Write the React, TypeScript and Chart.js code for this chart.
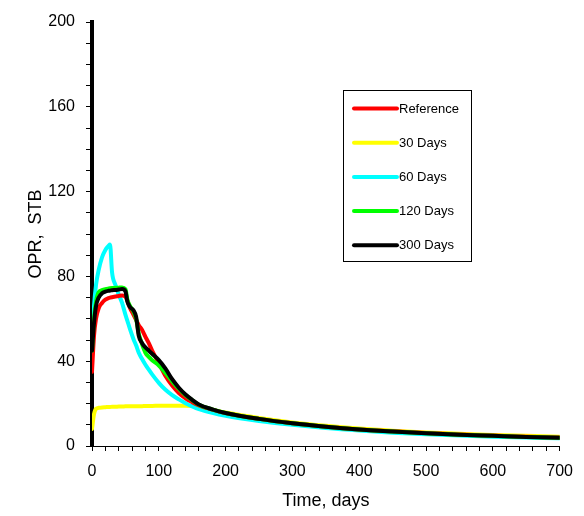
import React, { useEffect, useRef } from "react";
import { Chart, registerables } from "chart.js";

Chart.register(...registerables);

// ---- data ----
const TIME = [0, 3, 6, 10, 15, 20, 25, 27, 30, 35, 40, 45, 50, 53, 57, 62, 66, 70, 75, 80, 85, 90, 100, 110, 120, 130, 140, 150, 160, 180, 200, 250, 300, 350, 400, 450, 500, 550, 600, 650, 700];

const REFERENCE = [35, 52, 60, 65, 67.5, 69, 69.8, 70, 70.2, 70.5, 70.8, 71, 70.5, 68.5, 65, 62, 59.5, 57, 54.7, 51.5, 48.5, 45, 39, 33, 28.5, 25, 22.5, 20.7, 19.2, 17.2, 15.5, 12.8, 10.7, 9.1, 7.8, 6.9, 6.1, 5.4, 4.9, 4.4, 4.0];
const DAYS_30 = [8, 15, 17.6, 18, 18.2, 18.3, 18.4, 18.4, 18.5, 18.5, 18.6, 18.6, 18.7, 18.7, 18.7, 18.8, 18.8, 18.8, 18.8, 18.9, 18.9, 18.9, 19, 19, 19, 19, 19, 18.9, 18.5, 17.1, 15.8, 13.2, 11.1, 9.5, 8.2, 7.2, 6.4, 5.8, 5.2, 4.8, 4.4];
const DAYS_60 = [50, 66, 76, 83, 89, 92.5, 94.5, 95, 82, 76, 71.5, 67.5, 62, 59, 55, 50.5, 47.5, 44, 41, 38.3, 36, 33.8, 29.8, 26.5, 24, 22, 20.2, 18.7, 17.4, 15.6, 14.2, 11.8, 10.0, 8.5, 7.3, 6.3, 5.5, 4.9, 4.4, 4.0, 3.6];
const DAYS_120 = [45, 60, 68, 72.5, 73.5, 74, 74.3, 74.4, 74.5, 74.6, 74.7, 74.8, 74, 69, 66, 63.5, 60, 53, 48, 44, 42, 40.5, 38, 34.5, 30.5, 27, 24, 21.6, 19.5, 17.3, 15.6, 12.8, 10.7, 9.1, 7.8, 6.8, 6.0, 5.3, 4.8, 4.3, 3.9];
const DAYS_300 = [45, 58, 66, 70, 72, 72.8, 73.2, 73.3, 73.5, 73.6, 73.8, 74, 73, 68, 65.5, 64, 61, 52, 48.5, 46.5, 45, 43.5, 40.5, 36.5, 31.5, 27.5, 24.3, 21.8, 19.6, 17.3, 15.6, 12.8, 10.7, 9.1, 7.8, 6.8, 6.0, 5.3, 4.8, 4.3, 3.9];

const SERIES_LABELS = ["Reference", "30 Days", "60 Days", "120 Days", "300 Days"];
const SERIES_VALUES = [REFERENCE, DAYS_30, DAYS_60, DAYS_120, DAYS_300];
const SERIES_COLORS = ["#ff0000", "#ffff00", "#00ffff", "#00ff00", "#000000"];
const SERIES_ORDER = [2, 4, 3, 1, 0];

const X_TITLE = "Time, days";
const Y_TITLE = "OPR,\u00A0 STB";
const X_MIN = 0, X_MAX = 700, X_MINOR = 20, X_MAJOR = 100;
const Y_MIN = 0, Y_MAX = 200, Y_MINOR = 10, Y_MAJOR = 40;

const FONT = "'Liberation Sans', Arial, Helvetica, sans-serif";

const boxLegend = {
  id: "boxLegend",
  afterDraw(chart: any) {
    const ctx = chart.ctx as CanvasRenderingContext2D;
    ctx.save();
    const bx = 343.5, by = 90.5, bw = 128, bh = 171;
    ctx.fillStyle = "#ffffff";
    ctx.fillRect(bx, by, bw, bh);
    ctx.strokeStyle = "#000000";
    ctx.lineWidth = 1;
    ctx.strokeRect(bx, by, bw, bh);
    const rowY0 = 108.5, rowStep = 34.2;
    ctx.font = `13px ${FONT}`;
    ctx.textBaseline = "middle";
    ctx.textAlign = "left";
    chart.data.datasets.forEach((ds: any, i: number) => {
      const y = rowY0 + i * rowStep;
      ctx.strokeStyle = ds.borderColor;
      ctx.lineWidth = 4;
      ctx.lineCap = "round";
      ctx.beginPath();
      ctx.moveTo(354, y);
      ctx.lineTo(397, y);
      ctx.stroke();
      ctx.fillStyle = "#000000";
      ctx.fillText(ds.label, 399, y + 0.5);
    });
    ctx.restore();
  },
};

export default function App() {
  const ref = useRef<HTMLCanvasElement>(null);
  useEffect(() => {
    if (!ref.current) return;
    const datasets = SERIES_LABELS.map((label, i) => ({
      label,
      data: TIME.map((t, j) => ({ x: t, y: SERIES_VALUES[i][j] })),
      borderColor: SERIES_COLORS[i],
      backgroundColor: SERIES_COLORS[i],
      borderWidth: 4,
      pointRadius: 0,
      cubicInterpolationMode: "monotone" as const,
      borderJoinStyle: "round" as const,
      borderCapStyle: "round" as const,
      order: SERIES_ORDER[i],
      fill: false,
    }));
    const chart = new Chart(ref.current, {
      type: "line",
      data: { datasets },
      plugins: [boxLegend],
      options: {
        animation: false,
        responsive: false,
        devicePixelRatio: 1,
        layout: { padding: { top: 22, right: 24, bottom: 0, left: 0 } },
        plugins: { legend: { display: false }, tooltip: { enabled: false } },
        scales: {
          x: {
            type: "linear",
            min: X_MIN,
            max: X_MAX,
            afterFit: (s: any) => { s.height = 70; },
            border: { display: true, color: "#000", width: 1 },
            grid: { drawOnChartArea: false, drawTicks: true, tickLength: 5, color: "#000", lineWidth: 1 },
            ticks: {
              stepSize: X_MINOR,
              autoSkip: false,
              maxRotation: 0,
              padding: 11,
              color: "#000",
              font: { size: 16, family: FONT },
              callback: (v: any) => (Number(v) % X_MAJOR === 0 ? String(v) : ""),
            },
            title: { display: true, text: X_TITLE, color: "#000", font: { size: 18, family: FONT }, padding: { top: 0, bottom: 4 } },
          },
          y: {
            type: "linear",
            min: Y_MIN,
            max: Y_MAX,
            afterFit: (s: any) => { s.width = 92; },
            border: { display: true, color: "#000", width: 4 },
            grid: { drawOnChartArea: false, drawTicks: true, tickLength: 6, color: "#000", lineWidth: 1 },
            ticks: {
              stepSize: Y_MINOR,
              autoSkip: false,
              padding: 11,
              color: "#000",
              font: { size: 16, family: FONT },
              callback: (v: any) => (Number(v) % Y_MAJOR === 0 ? String(v) : ""),
            },
            title: { display: true, text: Y_TITLE, color: "#000", font: { size: 18, family: FONT }, padding: { top: 25, bottom: 0 } },
          },
        },
      },
    });
    return () => chart.destroy();
  }, []);
  return (
    <div style={{ position: "absolute", left: 0, top: 0, width: 584, height: 516, background: "#fff" }}>
      <canvas ref={ref} width={584} height={516} style={{ display: "block", width: 584, height: 516 }} />
    </div>
  );
}
